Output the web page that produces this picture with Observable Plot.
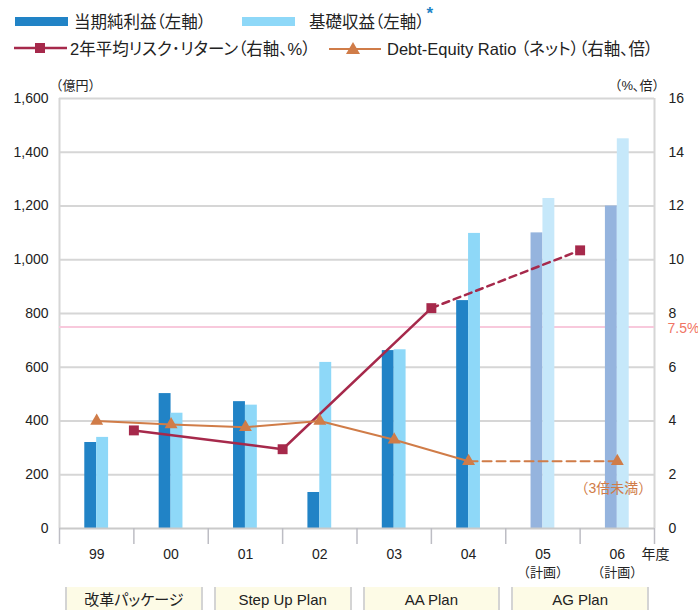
<!DOCTYPE html>
<html><head><meta charset="utf-8">
<script src="https://cdn.jsdelivr.net/npm/d3@7"></script>
<script src="https://cdn.jsdelivr.net/npm/@observablehq/plot@0.6"></script>
<style>
body{margin:0;background:#fff;font-family:"Liberation Sans","Noto Sans CJK JP",sans-serif;color:#222;}
#wrap{position:relative;width:698px;height:610px;overflow:hidden;}
#legend{position:absolute;left:0;top:0;width:698px;height:62px;font-size:16.5px;font-feature-settings:"palt";}
.li{position:absolute;display:flex;align-items:center;height:20px;white-space:nowrap;}
.sw{display:inline-block;height:9px;width:53px;}
#chart{position:absolute;left:0;top:62px;}
.plan{position:absolute;top:587px;height:30px;background:#fdfbe6;border-left:2px solid #d4d4d4;border-right:2px solid #d4d4d4;box-sizing:border-box;text-align:center;font-size:15px;line-height:25px;font-feature-settings:"palt";}
</style></head>
<body><div id="wrap">
<div id="legend">
 <div class="li" style="left:15px;top:11px"><span class="sw" style="background:#2183c6"></span><span style="margin-left:6px">当期純利益（左軸）</span></div>
 <div class="li" style="left:242px;top:11px"><span class="sw" style="background:#8ed8f8"></span><span style="margin-left:14px">基礎収益（左軸）</span><span style="color:#2183c6;font-size:17px;font-weight:bold;position:relative;top:-7px;margin-left:2px">*</span></div>
 <div class="li" style="left:14px;top:38px"><svg width="53" height="14"><line x1="0" y1="7" x2="53" y2="7" stroke="#a6294b" stroke-width="2.5"/><rect x="21" y="2" width="10" height="10" fill="#a6294b"/></svg><span style="margin-left:3px">2年平均リスク･リターン（右軸、%）</span></div>
 <div class="li" style="left:329px;top:38px"><svg width="52" height="14"><line x1="0" y1="8" x2="52" y2="8" stroke="#d07c48" stroke-width="2"/><polygon points="24,1 31,13 17,13" fill="#d07c48"/></svg><span style="margin-left:6px">Debt-Equity Ratio （ネット）（右軸、倍）</span></div>
</div>
<div id="chart"></div>
</div>
<script>
// ---- data ----
const years = ["99","00","01","02","03","04","05","06"];
const planYears = ["05","06"];
const netIncome   = [320, 502, 472, 134, 662, 848, 1100, 1200];
const basicProfit = [339, 429, 459, 618, 665, 1098, 1228, 1450];
const riskPeriods = ["99-00","01-02","03-04","05-06"];
const riskReturn  = [3.65, 2.95, 8.2, 10.35];
const deRatio     = [4.0, 3.87, 3.77, 4.0, 3.3, 2.5, null, 2.5];
const plans     = ["改革パッケージ","Step Up Plan","AA Plan","AG Plan"];
const planStart = ["99","01","03","05"];
const planEnd   = ["00","02","04","06"];
const leftTicks  = [0,200,400,600,800,1000,1200,1400,1600];
const rightTicks = [0,2,4,6,8,10,12,14,16];
const hurdle = 7.5;

// ---- derived tables ----
const K = 100; // right axis (0-16) onto left axis (0-1600)
const bw = 0.16;
const bars = years.map((y,i)=>({i, year:y, planned:planYears.includes(y), net:netIncome[i], basic:basicProfit[i]}));
const risk = riskPeriods.map((p,j)=>({x: years.indexOf(p.split("-")[1]), v: riskReturn[j]}));
const de = years.map((y,i)=>({x:i+0.5, v:deRatio[i], year:y})).filter(d=>d.v!=null);
const deSolid = de.filter(d=>d.x<=5.5), deDash = de.filter(d=>d.x>=5.5);
const grid = "#d6d6d6";

const chart = Plot.plot({
  width: 698, height: 523,
  marginTop: 36, marginBottom: 57, marginLeft: 59, marginRight: 44,
  style:{fontFamily:'"Liberation Sans","Noto Sans CJK JP",sans-serif', color:"#222", background:"transparent"},
  x:{type:"linear", domain:[0, years.length], axis:null, label:null},
  y:{domain:[0,1600], axis:null, label:null},
  marks:[
    Plot.ruleY(leftTicks.slice(1), {stroke:grid, strokeWidth:2}),
    Plot.ruleX([0, years.length], {stroke:grid, strokeWidth:2}),
    Plot.ruleY([hurdle*K], {stroke:"#f8c9dc", strokeWidth:2}),
    Plot.rectY(bars, {x1:d=>d.i+0.5-bw, x2:d=>d.i+0.5, y:"net", fill:d=>d.planned?"#95b4de":"#2183c6"}),
    Plot.rectY(bars, {x1:d=>d.i+0.5, x2:d=>d.i+0.5+bw, y:"basic", fill:d=>d.planned?"#c6e8fa":"#8ed8f8"}),
    Plot.ruleY([0], {stroke:"#cacaca", strokeWidth:2}),
    Plot.axisX(d3.range(0, years.length+1), {tickSize:16, tickFormat:()=>"", stroke:"#bdbdc4", strokeWidth:1.5, label:null}),
    Plot.axisY(leftTicks, {anchor:"left", tickSize:0, tickPadding:11, tickFormat:d3.format(","), fontSize:14, label:null}),
    Plot.axisY(leftTicks, {anchor:"right", tickSize:0, tickPadding:14, tickFormat:d=>d/K, fontSize:14, label:null}),
    Plot.text(bars, {x:d=>d.i+0.5, text:"year", frameAnchor:"bottom", dy:30, fontSize:14}),
    Plot.text(bars.filter(d=>d.planned), {x:d=>d.i+0.5, text:()=>"（計画）", frameAnchor:"bottom", dy:48, fontSize:13}),
    Plot.text(["年度"], {frameAnchor:"bottom-right", dx:1, dy:30, fontSize:14, textAnchor:"middle"}),
    Plot.text(["（億円）"], {frameAnchor:"top-left", dx:-10, dy:-18, fontSize:13, textAnchor:"start"}),
    Plot.text(["（%､倍）"], {frameAnchor:"top-right", dx:11, dy:-18, fontSize:13, textAnchor:"end"}),
    Plot.text([hurdle*K], {y:d=>d, text:()=>hurdle+"%", frameAnchor:"right", textAnchor:"start", dx:13, dy:2, fill:"#f07464", fontSize:14}),
    // risk-return
    Plot.line(risk.slice(0,3), {x:"x", y:d=>d.v*K, stroke:"#a6294b", strokeWidth:2.5}),
    Plot.line(risk.slice(2), {x:"x", y:d=>d.v*K, stroke:"#a6294b", strokeWidth:2.5, strokeDasharray:"7,5"}),
    Plot.dot(risk, {x:"x", y:d=>d.v*K, symbol:"square", r:5.6, fill:"#a6294b"}),
    // D/E ratio
    Plot.line(deSolid, {x:"x", y:d=>d.v*K, stroke:"#d07c48", strokeWidth:2}),
    Plot.line(deDash, {x:"x", y:d=>d.v*K, stroke:"#d07c48", strokeWidth:2, strokeDasharray:"9,5"}),
    Plot.dot(de, {x:"x", y:d=>d.v*K, symbol:"triangle", r:4.8, fill:"#d07c48"}),
    Plot.text(de.slice(-1), {x:"x", y:d=>d.v*K, text:()=>"（3倍未満）", dy:27, dx:-4, fill:"#d07c48", fontSize:14})
  ]
});
document.getElementById("chart").appendChild(chart);

// plan boxes below the chart, placed with the chart's x scale
const xs = chart.scale("x");
const wrap = document.getElementById("wrap");
plans.forEach((p,k)=>{
  const a = xs.apply(years.indexOf(planStart[k])) + 6;
  const b = xs.apply(years.indexOf(planEnd[k]) + 1) - 5;
  const el = document.createElement("div");
  el.className = "plan";
  el.style.left = a + "px";
  el.style.width = (b - a) + "px";
  el.textContent = p;
  wrap.appendChild(el);
});
</script>
</body></html>
